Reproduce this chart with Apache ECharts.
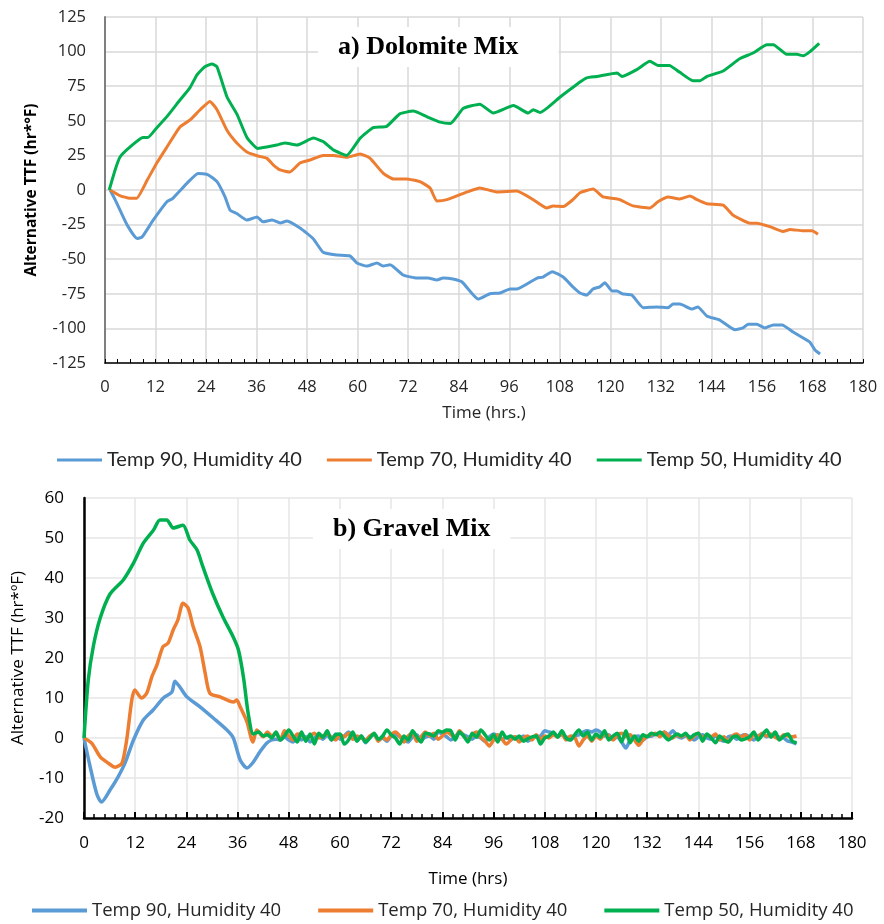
<!DOCTYPE html>
<html><head><meta charset="utf-8">
<script src="https://cdn.jsdelivr.net/npm/echarts@6/dist/echarts.min.js"></script>
<style>html,body{margin:0;padding:0;background:#fff}#c{width:884px;height:924px}</style>
</head><body><div id="c"></div>
<script>
// ---------- names / tick settings ----------
const seriesNames = ['Temp 90, Humidity 40', 'Temp 70, Humidity 40', 'Temp 50, Humidity 40'];
const seriesColors = ['#5b9bd5', '#ed7d31', '#00b050'];
const titleA = 'a) Dolomite Mix';
const titleB = 'b) Gravel Mix';

// ---------- a) Dolomite Mix ----------
const dolT90Hours = [1.2,2.4,5.2,7.6,8.8,11.4,14.7,16.1,19.5,22.1,24.5,26.6,28.5,29.7,31.3,33.7,36.1,37.5,39.7,41.6,43.2,46.3,49.4,51.8,55.1,58.2,59.8,62.2,64.6,66,67.7,70.8,74.1,76.7,78.8,80.3,82.6,84.8,88.6,91.4,93.8,96.2,97.8,102.6,104,106.2,108.8,111.1,112.8,114.4,115.9,117.5,118.7,120.4,121.6,122.8,125.1,127.8,131,133.7,134.9,136.5,139.4,140.8,142.9,146,149.6,151.5,152.7,154.8,156.7,158.7,160.8,163.4,165.8,167.4,168.6,169.8];
const dolT90Values = [0,-7,-25,-35,-34,-22,-8.5,-6,5,12,11,6,-5,-14.5,-17,-21.7,-19.5,-23,-21.7,-23.8,-22.4,-27.5,-35,-45,-47,-47.7,-52.7,-55,-52.7,-55,-54,-61.4,-63.6,-63.6,-65,-63.6,-64.3,-66.5,-78.8,-75,-74.4,-71.5,-71.5,-63.6,-62.9,-59,-62.9,-70,-74.4,-75.9,-71.5,-70,-67,-73,-73,-75,-75.9,-85,-84.5,-85,-82.4,-82.4,-86,-84.5,-91,-94,-101,-99.7,-97,-97,-99.7,-97.5,-97.5,-102.6,-107,-110,-115.6,-118.5];

const dolT70Hours = [1.2,3.5,5.9,7.5,10,12.3,14.7,17.8,20.2,22.6,24.9,26.6,29,31.3,33.7,36.3,38.4,40,41.6,43.9,46.3,48.7,51.8,54.2,57.4,60.6,62.9,66.1,68.5,71.6,74.8,77.2,78.8,81.2,86,89,93,97.8,101.7,104.9,106.4,108.8,111.1,112.8,115.9,118.3,121.6,122.3,125.4,129.4,131.3,133.7,136.5,138.9,140.6,142.9,146.8,149.1,153.2,154.8,157.9,161,162.7,165.8,167.9,169.3];
const dolT70Values = [0,-4,-6,-6,7,19.5,31,45.5,50.6,58,64,58,43,34,27.5,24.6,23,18,14.5,13,19.5,21.7,25,25,23.6,26,23,12,8,8,6,1.4,-8,-7,-1.4,1.5,-1.4,-0.7,-7,-13,-11.5,-12,-7,-2,0.7,-5,-6.5,-7,-11.5,-13,-8.5,-5,-6.5,-4.3,-7,-10,-11,-18,-24,-24,-26.5,-30,-28.5,-29.5,-29.5,-32];

const dolT50Hours = [1,2.4,3.6,5.9,9,10.2,12.3,14.7,17.8,20.2,21.8,23.7,25.4,26.6,29,31.3,33.7,36.3,38.4,40.8,42.7,45.6,49.5,51.8,54.2,57.4,60.6,63.7,66.9,70,73.2,76.4,79.6,82,85.1,89,92.2,97,100.5,101.7,103.3,108,112.8,114.4,116.8,121.6,122.8,126.3,129.4,131.3,134,136.5,139.6,141.3,142.9,146.8,150.8,153.9,157.2,158.7,161.9,164.3,165.8,167.4,169.6];
const dolT50Values = [0,14.5,24,31,38,38,45,53,65,74,83,89,91,89,67,55,38,30,31,32.5,34,32.5,37.5,35,29,25,37.5,45,46,55,57,53,49,48,59,62,55.6,61,55.6,58,56,67,78,81,82,84.5,82,87,93,90,90,85,79,79,82,86,95,99,105,105,98,98,97,100,106];

// ---------- b) Gravel Mix ----------
const grvT90Hours = [0,1.4,3,4.1,6.1,8,9.6,11.6,13.9,16.2,18.6,20.6,21.3,22.5,24.1,27.2,30.3,33.5,35,36.6,38.2,39.7,41.2,42.8,44,45,46,47,48,49,50,51,52,53,54,55,56,57,58,59,60,61,62,63,64,65,66,67,68,69,70,71,72,73,74,75,76,77,78,79,80,81,82,83,84,85,86,87,88,89,90,91,92,93,94,95,96,97,98,99,100,101,102,103,104,105,106,107,108,109,110,111,112,113,114,115,116,117,118,119,120,121,122,123,124,125,126,127,128,129,130,131,132,133,134,135,136,137,138,139,140,141,142,143,144,145,146,147,148,149,150,151,152,153,154,155,156,157,158,159,160,161,162,163,164,165,166,167];
const grvT90Values = [0,-7,-14,-16,-13,-9.7,-6.3,-0.5,4.5,7,10,11.5,14.2,12.7,10.3,7.8,5,2,0,-5.5,-7.5,-6,-3.5,-1.3,-0.5,-0.3,-0.5,0.3,-0.5,-1,0.5,-0.5,0.3,-1,0,0.5,-0.3,0.8,-0.5,1,-0.3,0.5,1.5,0.3,-0.5,0.5,-1.2,0.3,0.8,-0.5,0,-0.8,0.5,1,0.3,-0.5,-1,0.3,0.8,-0.5,0.2,0.5,-0.3,1.5,1,0.3,-0.5,0.5,1.2,0.8,0.3,-0.3,0.5,0,-0.8,0.3,1,0.5,-0.3,0.2,-0.5,0.3,-0.3,0.5,-0.8,0,0.3,0.5,1.8,1.5,1.2,0.5,0.8,0.3,-0.5,0.5,0.8,1.5,1.8,1.5,2,1.5,0.5,0.8,-0.3,0.3,-1,-2.5,-0.5,0.3,0.5,-0.5,0.3,0.5,1,0.5,1.5,0.8,1.8,0.5,0,0.5,0.3,-0.5,0.3,0.8,0,-0.3,0.5,-0.3,-0.8,0.3,0.5,-0.3,0.5,0.8,0.3,-0.5,0.5,1,0.3,0.8,0.5,0.2,0,-0.8,-1,-1.5];

const grvT70Hours = [0,1.8,3.8,5.7,7.3,8.9,10,11.2,11.9,13.5,14.7,15.9,17.1,18.5,19.7,20.9,22,23.2,24.4,25.6,27.2,28.4,29.5,31.9,35,35.8,36.6,38.2,39.6,40.5,42,43,44,45,46,47,48,49,50,51,52,53,54,55,56,57,58,59,60,61,62,63,64,65,66,67,68,69,70,71,72,73,74,75,76,77,78,79,80,81,82,83,84,85,86,87,88,89,90,91,92,93,94,95,96,97,98,99,100,101,102,103,104,105,106,107,108,109,110,111,112,113,114,115,116,117,118,119,120,121,122,123,124,125,126,127,128,129,130,131,132,133,134,135,136,137,138,139,140,141,142,143,144,145,146,147,148,149,150,151,152,153,154,155,156,157,158,159,160,161,162,163,164,165,166,167];
const grvT70Values = [0,-1.3,-4.7,-6.3,-7.3,-6.3,-0.5,9.5,12,10,11.2,15.3,18.3,22.8,23.7,27,29.5,33.7,32.5,27.8,22.8,16.2,11.2,10.3,9,9.5,7.8,4,-1,2,0.3,1.5,0.5,1.2,-0.5,1.8,0.5,-0.5,1,0.8,-0.3,0.5,1.2,0,0.5,1,0.2,-0.5,0.8,0.3,1.2,-0.3,0.5,0,-0.5,0.5,1,-0.8,0.3,-0.5,0.8,1.5,0.5,-1,0.5,1.2,-0.8,0.3,1.5,0.5,1.2,-0.3,0.5,1.5,0.8,0,1.8,0.5,-0.5,0.8,1.5,0.2,-0.8,-2,-0.5,0.8,-0.3,-1.5,-0.5,0.3,-1,0,0.5,-0.5,0.8,-0.3,0.5,0,0.8,0.3,1,-0.5,0.5,0.2,-2,-0.5,0.5,-0.8,0.5,-0.3,1,0.5,-0.5,0.8,1.2,0.3,0.8,-0.5,-1.8,-0.5,0.5,0.8,1.2,0.3,1.5,0.5,0,0.8,0.3,1,-0.5,0.5,1.2,0,0.8,0.3,1,-0.5,0.3,-1,0.5,1,0.2,0.8,-0.5,1,0.3,1.2,0.5,1,0.2,-0.3,0.8,0.5,0.3,0.5];

const grvT50Hours = [0,1,2.2,3.8,6.1,9.2,11.6,13.9,16.3,17.8,19.4,20.9,23.2,24.8,26.5,27.9,30.2,32.6,35,36.2,37.4,38.5,39.7,41,42,43,44,45,46,47,48,49,50,51,52,53,54,55,56,57,58,59,60,61,62,63,64,65,66,67,68,69,70,71,72,73,74,75,76,77,78,79,80,81,82,83,84,85,86,87,88,89,90,91,92,93,94,95,96,97,98,99,100,101,102,103,104,105,106,107,108,109,110,111,112,113,114,115,116,117,118,119,120,121,122,123,124,125,126,127,128,129,130,131,132,133,134,135,136,137,138,139,140,141,142,143,144,145,146,147,148,149,150,151,152,153,154,155,156,157,158,159,160,161,162,163,164,165,166,167];
const grvT50Values = [0,14.5,23,30,36,39.5,43.7,48.7,52,54.5,54.5,52.5,53.2,49.5,47,42.7,36,30.2,25.2,22,15,6,1,1.5,0.5,0.8,0,1.5,-0.5,0.5,2,0.5,-1,1.5,-0.8,1,-1.5,1.2,0.2,1.8,-0.5,0.8,1,-1.5,-0.5,1.5,-0.8,0.5,-1,0,1.2,-0.3,0.5,2,0.8,0,-1.5,0.5,-0.5,1.8,0.3,-1,1.2,1,0.5,1.8,1.5,2,1.8,-0.5,1.5,0.5,-1,1.2,0.2,2,0.8,-0.5,0.8,-1,1.5,0,0.5,-0.3,0.5,-0.8,-0.2,0.3,0.5,-1.5,0,0.5,1.5,0.2,1.8,0,-0.5,0.8,2,0.5,1.5,-0.5,1,0.2,1.8,-0.5,0.5,1.2,-1,1.8,-1.2,0.5,-0.8,0.8,0.3,1.2,0.8,1.5,0.5,-0.5,0.3,1,0.5,1.2,0,0.8,1.2,-0.8,1,0,-1.2,0.5,-0.5,-1,0.2,0.5,-0.5,-0.2,0.3,1.5,-0.5,0.8,2,0.2,1.5,-0.5,0.5,1,-0.8,-1.2];

// ---------- build ----------
const pairs = (h, v) => h.map((x, i) => [x, v[i]]);
const dolData = [pairs(dolT90Hours, dolT90Values), pairs(dolT70Hours, dolT70Values), pairs(dolT50Hours, dolT50Values)];
const grvData = [pairs(grvT90Hours, grvT90Values), pairs(grvT70Hours, grvT70Values), pairs(grvT50Hours, grvT50Values)];

const chart = echarts.init(document.getElementById('c'), null, {renderer: 'canvas'});
const series = [];
dolData.forEach((d, i) => series.push({
  name: seriesNames[i], type: 'line', xAxisIndex: 0, yAxisIndex: 0, data: d, smooth: 0.15,
  showSymbol: false, symbol: 'none', lineStyle: {width: 3, color: seriesColors[i], join: 'round'},
  itemStyle: {color: seriesColors[i]}, animation: false, z: 3
}));
grvData.forEach((d, i) => series.push({
  name: seriesNames[i], type: 'line', xAxisIndex: 1, yAxisIndex: 1, data: d, smooth: 0.25,
  showSymbol: false, symbol: 'none', lineStyle: {width: 3.5, color: seriesColors[i], join: 'round'},
  itemStyle: {color: seriesColors[i]}, animation: false, z: 3
}));

const gridCol = '#d9d9d9';
chart.setOption({
  backgroundColor: '#fff',
  animation: false,
  title: [
    {text: titleA, left: 318, top: 27, padding: [7, 40, 7, 20], backgroundColor: '#fff', z: 10,
     textStyle: {fontFamily: 'Liberation Serif', fontWeight: 'bold', fontSize: 26, color: '#000'}},
    {text: titleB, left: 313, top: 509, padding: [7, 20, 7, 20], backgroundColor: '#fff', z: 10,
     textStyle: {fontFamily: 'Liberation Serif', fontWeight: 'bold', fontSize: 26, color: '#000'}}
  ],
  legend: [
    {data: seriesNames, left: 52, top: 445, icon: 'rect', itemWidth: 45, itemHeight: 3, itemGap: 25,
     textStyle: {fontFamily: 'Lato', fontSize: 20, color: '#262626'}},
    {data: seriesNames, left: 27, top: 896, icon: 'rect', itemWidth: 55, itemHeight: 4, itemGap: 37,
     textStyle: {fontFamily: 'Open Sans', fontSize: 18.5, color: '#262626'}}
  ],
  grid: [
    {left: 105, top: 17, width: 758, height: 346, containLabel: false},
    {left: 84, top: 498, width: 768, height: 320, containLabel: false}
  ],
  xAxis: [
    {type: 'value', gridIndex: 0, min: 0, max: 180, interval: 12,
     name: 'Time (hrs.)', nameLocation: 'middle', nameGap: 42,
     nameTextStyle: {fontFamily: 'Open Sans', fontSize: 17, color: '#262626'},
     axisLine: {onZero: false, lineStyle: {color: '#000', width: 1.5}},
     axisTick: {show: true, inside: true, length: 4, lineStyle: {color: '#000', width: 1}},
     minorTick: {show: true, splitNumber: 4, length: 4, lineStyle: {color: '#000', width: 1}},
     axisLabel: {fontFamily: 'Open Sans', fontSize: 16.5, color: '#262626', margin: 16},
     splitLine: {show: true, lineStyle: {color: gridCol, width: 1.5}}},
    {type: 'value', gridIndex: 1, min: 0, max: 180, interval: 12,
     name: 'Time (hrs)', nameLocation: 'middle', nameGap: 53,
     nameTextStyle: {fontFamily: 'Open Sans', fontSize: 17, color: '#000'},
     axisLine: {onZero: false, lineStyle: {color: '#000', width: 2.5}},
     axisTick: {show: true, inside: true, length: 6, lineStyle: {color: '#000', width: 2}},
     minorTick: {show: true, splitNumber: 5, length: 4, lineStyle: {color: '#000', width: 1.5}},
     axisLabel: {fontFamily: 'Open Sans', fontSize: 17, color: '#000', margin: 17},
     splitLine: {show: true, lineStyle: {color: '#e6e6e6', width: 1.5}}}
  ],
  yAxis: [
    {type: 'value', gridIndex: 0, min: -125, max: 125, interval: 25,
     name: 'Alternative TTF (hr*°F)', nameLocation: 'middle', nameGap: 65,
     nameTextStyle: {fontFamily: 'Open Sans', fontWeight: 'bold', fontSize: 15.5, color: '#000'},
     axisLine: {show: true, onZero: false, lineStyle: {color: '#7f7f7f', width: 2}},
     axisTick: {show: false},
     axisLabel: {fontFamily: 'Open Sans', fontSize: 16.5, color: '#262626', margin: 19},
     splitLine: {show: true, lineStyle: {color: gridCol, width: 1.5}}},
    {type: 'value', gridIndex: 1, min: -20, max: 60, interval: 10,
     name: 'Alternative TTF (hr*ºF)', nameLocation: 'middle', nameGap: 57,
     nameTextStyle: {fontFamily: 'Open Sans', fontSize: 17, color: '#000'},
     axisLine: {show: true, onZero: false, lineStyle: {color: '#000', width: 2.5}},
     axisTick: {show: false},
     axisLabel: {fontFamily: 'Open Sans', fontSize: 17, color: '#000', margin: 20},
     splitLine: {show: true, lineStyle: {color: '#e6e6e6', width: 1.5}}}
  ],
  series: series
});
</script></body></html>
